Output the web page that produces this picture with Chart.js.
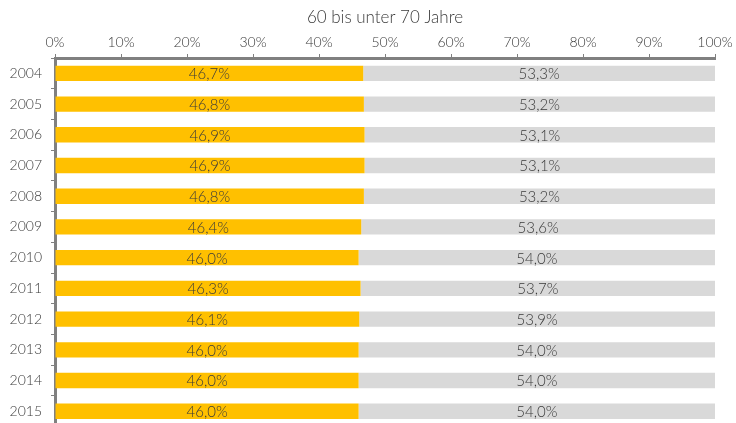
<!DOCTYPE html>
<html>
<head>
<meta charset="utf-8">
<script src="https://cdn.jsdelivr.net/npm/chart.js@4"></script>
<style>
  html, body { margin: 0; padding: 0; background: #fff; overflow: hidden; }
  canvas { display: block; }
</style>
</head>
<body>
<canvas id="chart" width="736" height="444"></canvas>
<script>
// Jahre und Anteile (in %)
const years = ['2004', '2005', '2006', '2007', '2008', '2009', '2010', '2011', '2012', '2013', '2014', '2015'];
const shareA = [46.7, 46.8, 46.9, 46.9, 46.8, 46.4, 46.0, 46.3, 46.1, 46.0, 46.0, 46.0];
const shareB = [53.3, 53.2, 53.1, 53.1, 53.2, 53.6, 54.0, 53.7, 53.9, 54.0, 54.0, 54.0];
const title = '60 bis unter 70 Jahre';

const fontFamily = 'Lato, "Open Sans", sans-serif';
const textColor = '#3a3a3a';
const axisColor = '#808080';

const fmt = v => v.toFixed(1).replace('.', ',') + '%';

// Werte mittig in die Balken schreiben
const barLabels = {
    id: 'barLabels',
    afterDatasetsDraw(chart) {
        const ctx = chart.ctx;
        ctx.save();
        ctx.font = '300 15px ' + fontFamily;
        ctx.fillStyle = textColor;
        ctx.textAlign = 'center';
        ctx.textBaseline = 'middle';
        chart.data.datasets.forEach((ds, i) => {
            chart.getDatasetMeta(i).data.forEach((bar, j) => {
                const x = (bar.x + bar.base) / 2;
                ctx.fillText(fmt(ds.data[j]), x, bar.y + 1);
            });
        });
        ctx.restore();
    }
};

new Chart(document.getElementById('chart').getContext('2d'), {
    type: 'bar',
    data: {
        labels: years,
        datasets: [
            { data: shareA, backgroundColor: '#FFC000', barPercentage: 0.5, categoryPercentage: 1 },
            { data: shareB, backgroundColor: '#D9D9D9', barPercentage: 0.5, categoryPercentage: 1 }
        ]
    },
    options: {
        indexAxis: 'y',
        responsive: false,
        animation: false,
        layout: { padding: { left: 0, right: 21, top: 0, bottom: 0 } },
        plugins: {
            legend: { display: false },
            tooltip: { enabled: false }
        },
        scales: {
            x: {
                position: 'top',
                stacked: true,
                min: 0,
                max: 100,
                ticks: {
                    stepSize: 10,
                    color: textColor,
                    font: { family: fontFamily, size: 14, weight: '300' },
                    callback: v => v + '%',
                    padding: 3
                },
                title: {
                    display: true,
                    text: title,
                    color: textColor,
                    font: { family: fontFamily, size: 17, weight: '300' },
                    padding: { top: 7, bottom: 2 }
                },
                grid: { drawOnChartArea: false, drawTicks: true, tickLength: 4, color: axisColor, lineWidth: 1 },
                border: { display: true, color: axisColor, width: 3 },
                afterFit: s => { s.height = 58; }
            },
            y: {
                stacked: true,
                ticks: {
                    color: textColor,
                    font: { family: fontFamily, size: 14, weight: '300' },
                    padding: 9
                },
                grid: { drawOnChartArea: false, drawTicks: true, tickLength: 4, color: axisColor, lineWidth: 1 },
                border: { display: true, color: axisColor, width: 3 },
                afterFit: s => { s.width = 55; }
            }
        }
    },
    plugins: [barLabels]
});
</script>
</body>
</html>
